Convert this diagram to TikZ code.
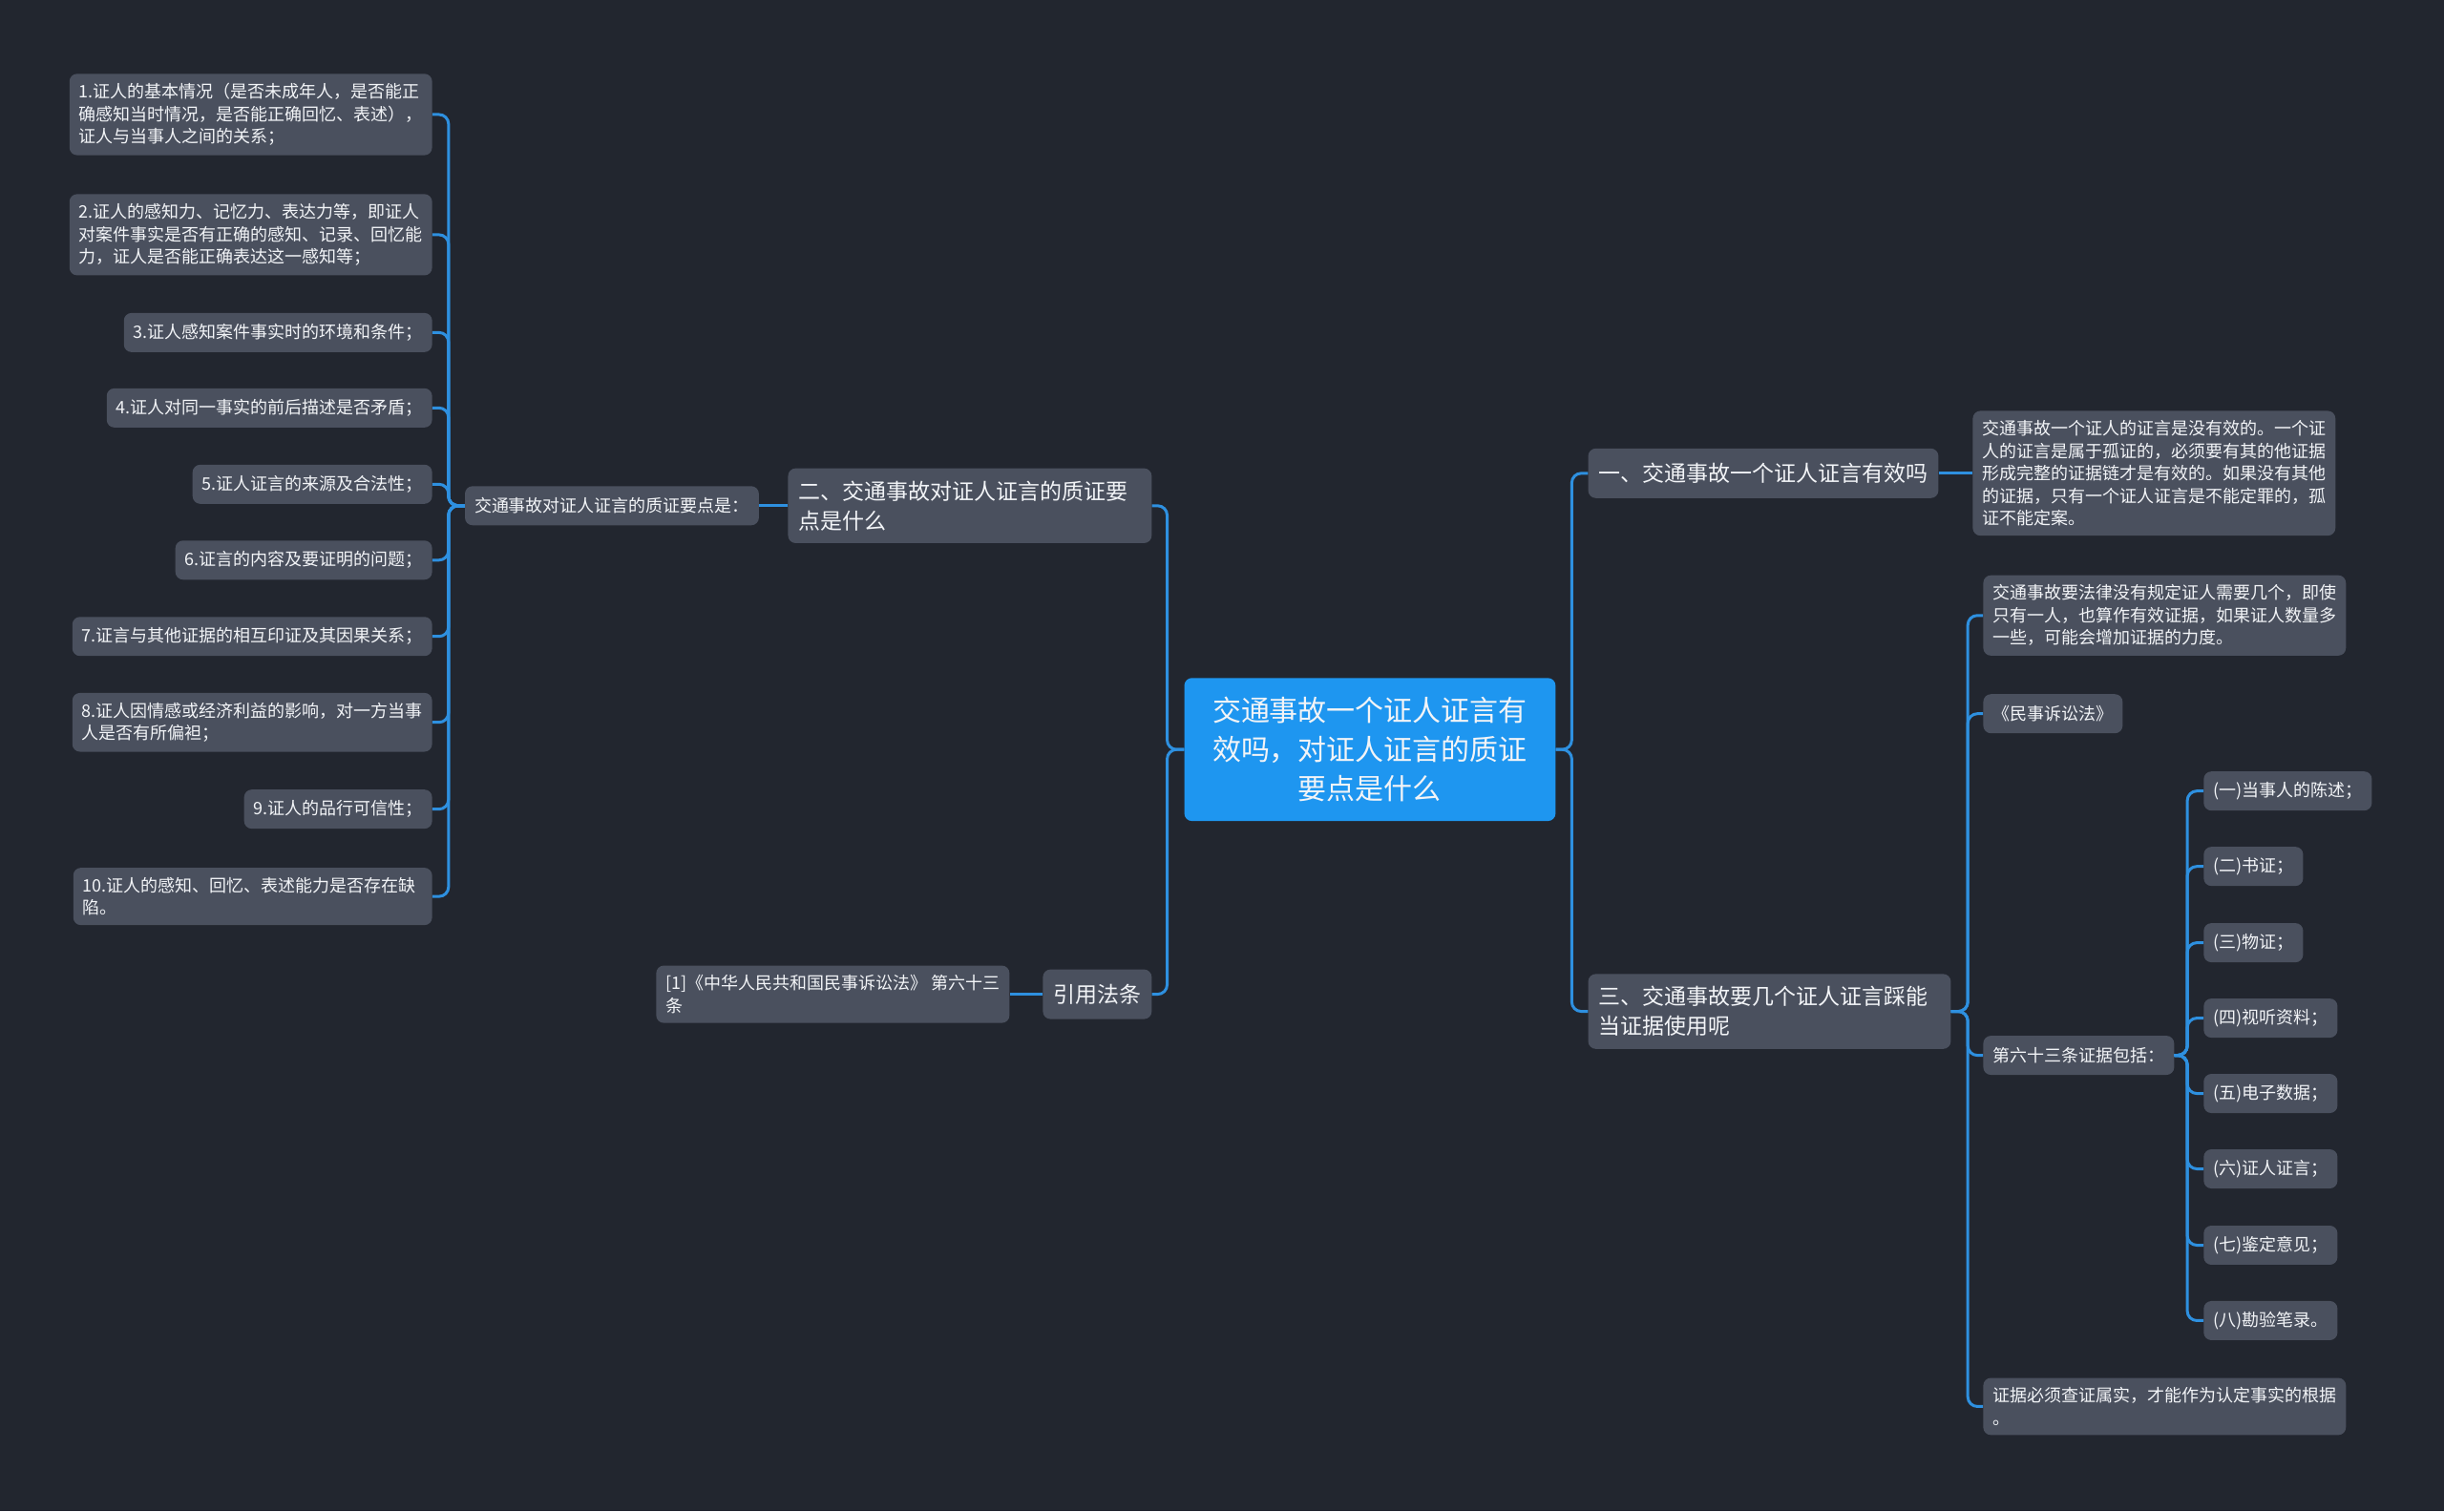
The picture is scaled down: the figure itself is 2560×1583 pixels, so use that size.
\documentclass[tikz,border=0pt]{standalone}
\usepackage{fontspec}
\setmainfont{Noto Sans CJK SC}
\definecolor{bg}{HTML}{22262F}
\definecolor{nodefill}{HTML}{4A505E}
\definecolor{centerfill}{HTML}{1E96F0}
\definecolor{linec}{HTML}{2E90E0}
\definecolor{txt}{HTML}{F2F4F7}
\tikzset{
  box/.style={draw=none, fill=nodefill, rounded corners=8pt, text=txt, align=left,
    inner xsep=10pt, inner ysep=10pt, minimum height=41pt, font=\fontsize{18}{23.5}\selectfont},
  big/.style={box, font=\fontsize{23}{31}\selectfont, inner xsep=11pt, inner ysep=13pt, minimum height=52pt},
  root/.style={box, fill=centerfill, font=\fontsize{30}{41}\selectfont, align=center,
    inner xsep=24pt, inner ysep=20pt, minimum width=389pt},
  conn/.style={draw=linec, line width=3pt, rounded corners=10pt},
}
\begin{document}
\begin{tikzpicture}[x=1pt,y=-1pt]
\fill[bg] (0,0) rectangle (2561,1584);
\useasboundingbox (0,0) rectangle (2560,1583);

% central
\node[root] (root) at (1435.5,785.5) {交通事故一个证人证言有\\效吗，对证人证言的质证\\要点是什么};

% level 1
\node[big, anchor=east, text width=359pt] (t2) at (1207,530) {二、交通事故对证人证言的质证要\\点是什么};
\node[big, anchor=east] (ref) at (1207,1042) {引用法条};
\node[big, anchor=west] (t1) at (1664,496) {一、交通事故一个证人证言有效吗};
\node[big, anchor=west, text width=358pt] (t3) at (1664,1060) {三、交通事故要几个证人证言踩能\\当证据使用呢};

% left branch
\node[box, anchor=west] (lp) at (487,530) {交通事故对证人证言的质证要点是：};
\node[box, anchor=east] (l1) at (453,120) {1.证人的基本情况（是否未成年人，是否能正\\确感知当时情况，是否能正确回忆、表述），\\证人与当事人之间的关系；};
\node[box, anchor=east] (l2) at (453,246) {2.证人的感知力、记忆力、表达力等，即证人\\对案件事实是否有正确的感知、记录、回忆能\\力，证人是否能正确表达这一感知等；};
\node[box, anchor=east] (l3) at (453,348.5) {3.证人感知案件事实时的环境和条件；};
\node[box, anchor=east] (l4) at (453,427.5) {4.证人对同一事实的前后描述是否矛盾；};
\node[box, anchor=east] (l5) at (453,507.5) {5.证人证言的来源及合法性；};
\node[box, anchor=east] (l6) at (453,587) {6.证言的内容及要证明的问题；};
\node[box, anchor=east] (l7) at (453,667) {7.证言与其他证据的相互印证及其因果关系；};
\node[box, anchor=east] (l8) at (453,757) {8.证人因情感或经济利益的影响，对一方当事\\人是否有所偏袒；};
\node[box, anchor=east] (l9) at (453,848) {9.证人的品行可信性；};
\node[box, anchor=east, text width=356pt] (l10) at (453,939.5) {10.证人的感知、回忆、表述能力是否存在缺\\陷。};

\node[box, anchor=east] (refd) at (1058,1042) {[1]《中华人民共和国民事诉讼法》 第六十三\\条};

% right branch
\node[box, anchor=west] (d1) at (2067,496) {交通事故一个证人的证言是没有效的。一个证\\人的证言是属于孤证的，必须要有其的他证据\\形成完整的证据链才是有效的。如果没有其他\\的证据，只有一个证人证言是不能定罪的，孤\\证不能定案。};
\node[box, anchor=west] (s1) at (2078,645) {交通事故要法律没有规定证人需要几个，即使\\只有一人，也算作有效证据，如果证人数量多\\一些，可能会增加证据的力度。};
\node[box, anchor=west] (s2) at (2078,748) {《民事诉讼法》};
\node[box, anchor=west] (s3) at (2078,1106) {第六十三条证据包括：};
\node[box, anchor=west] (s4) at (2078,1474) {证据必须查证属实，才能作为认定事实的根据\\。};

\node[box, anchor=west] (e1) at (2309,829) {(一)当事人的陈述；};
\node[box, anchor=west] (e2) at (2309,908) {(二)书证；};
\node[box, anchor=west] (e3) at (2309,988) {(三)物证；};
\node[box, anchor=west] (e4) at (2309,1067) {(四)视听资料；};
\node[box, anchor=west] (e5) at (2309,1146) {(五)电子数据；};
\node[box, anchor=west] (e6) at (2309,1225) {(六)证人证言；};
\node[box, anchor=west] (e7) at (2309,1305) {(七)鉴定意见；};
\node[box, anchor=west] (e8) at (2309,1384) {(八)勘验笔录。};

% trunk x positions
\coordinate (txL) at (1223,0);
\coordinate (txR) at (1647,0);
\coordinate (txLL) at (470,0);
\coordinate (tx3) at (2062,0);
\coordinate (tx63) at (2292,0);

% connectors
\foreach \n in {t2,ref} \draw[conn] (root.west) -- (root.west -| txL) |- (\n.east);
\foreach \n in {t1,t3} \draw[conn] (root.east) -- (root.east -| txR) |- (\n.west);
\draw[conn] (t2.west) -- (lp.east);
\draw[conn] (ref.west) -- (refd.east);
\draw[conn] (t1.east) -- (d1.west);
\foreach \n in {l1,l2,l3,l4,l5,l6,l7,l8,l9,l10} \draw[conn] (lp.west) -- (lp.west -| txLL) |- (\n.east);
\foreach \n in {s1,s2,s3,s4} \draw[conn] (t3.east) -- (t3.east -| tx3) |- (\n.west);
\foreach \n in {e1,e2,e3,e4,e5,e6,e7,e8} \draw[conn] (s3.east) -- (s3.east -| tx63) |- (\n.west);
\end{tikzpicture}
\end{document}
